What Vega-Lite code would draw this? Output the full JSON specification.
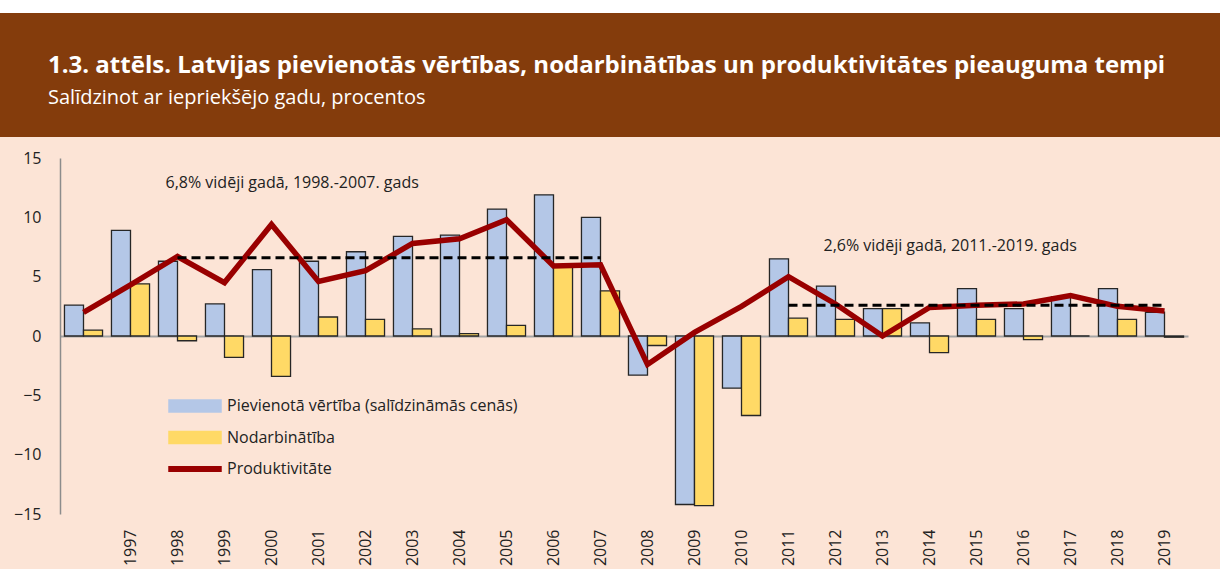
{
  "$schema": "https://vega.github.io/schema/vega-lite/v6.json",
  "background": "#FFFFFF",
  "padding": {"left": 0, "top": 13, "right": 0, "bottom": 0},
  "spacing": 0,
  "bounds": "flush",
  "config": {"font": "Open Sans", "view": {"stroke": null}, "legend": {"symbolStrokeColor": "#262626", "symbolStrokeWidth": 1.3}},
  "datasets": {
    "bars": [
      {"year": 1996, "series": "Pievienotā vērtība (salīdzināmās cenās)", "value": 2.6},
      {"year": 1997, "series": "Pievienotā vērtība (salīdzināmās cenās)", "value": 8.9},
      {"year": 1998, "series": "Pievienotā vērtība (salīdzināmās cenās)", "value": 6.3},
      {"year": 1999, "series": "Pievienotā vērtība (salīdzināmās cenās)", "value": 2.7},
      {"year": 2000, "series": "Pievienotā vērtība (salīdzināmās cenās)", "value": 5.6},
      {"year": 2001, "series": "Pievienotā vērtība (salīdzināmās cenās)", "value": 6.3},
      {"year": 2002, "series": "Pievienotā vērtība (salīdzināmās cenās)", "value": 7.1},
      {"year": 2003, "series": "Pievienotā vērtība (salīdzināmās cenās)", "value": 8.4},
      {"year": 2004, "series": "Pievienotā vērtība (salīdzināmās cenās)", "value": 8.5},
      {"year": 2005, "series": "Pievienotā vērtība (salīdzināmās cenās)", "value": 10.7},
      {"year": 2006, "series": "Pievienotā vērtība (salīdzināmās cenās)", "value": 11.9},
      {"year": 2007, "series": "Pievienotā vērtība (salīdzināmās cenās)", "value": 10.0},
      {"year": 2008, "series": "Pievienotā vērtība (salīdzināmās cenās)", "value": -3.3},
      {"year": 2009, "series": "Pievienotā vērtība (salīdzināmās cenās)", "value": -14.2},
      {"year": 2010, "series": "Pievienotā vērtība (salīdzināmās cenās)", "value": -4.4},
      {"year": 2011, "series": "Pievienotā vērtība (salīdzināmās cenās)", "value": 6.5},
      {"year": 2012, "series": "Pievienotā vērtība (salīdzināmās cenās)", "value": 4.2},
      {"year": 2013, "series": "Pievienotā vērtība (salīdzināmās cenās)", "value": 2.3},
      {"year": 2014, "series": "Pievienotā vērtība (salīdzināmās cenās)", "value": 1.1},
      {"year": 2015, "series": "Pievienotā vērtība (salīdzināmās cenās)", "value": 4.0},
      {"year": 2016, "series": "Pievienotā vērtība (salīdzināmās cenās)", "value": 2.3},
      {"year": 2017, "series": "Pievienotā vērtība (salīdzināmās cenās)", "value": 3.3},
      {"year": 2018, "series": "Pievienotā vērtība (salīdzināmās cenās)", "value": 4.0},
      {"year": 2019, "series": "Pievienotā vērtība (salīdzināmās cenās)", "value": 2.0},
      {"year": 1996, "series": "Nodarbinātība", "value": 0.5},
      {"year": 1997, "series": "Nodarbinātība", "value": 4.4},
      {"year": 1998, "series": "Nodarbinātība", "value": -0.4},
      {"year": 1999, "series": "Nodarbinātība", "value": -1.8},
      {"year": 2000, "series": "Nodarbinātība", "value": -3.4},
      {"year": 2001, "series": "Nodarbinātība", "value": 1.6},
      {"year": 2002, "series": "Nodarbinātība", "value": 1.4},
      {"year": 2003, "series": "Nodarbinātība", "value": 0.6},
      {"year": 2004, "series": "Nodarbinātība", "value": 0.2},
      {"year": 2005, "series": "Nodarbinātība", "value": 0.9},
      {"year": 2006, "series": "Nodarbinātība", "value": 5.9},
      {"year": 2007, "series": "Nodarbinātība", "value": 3.8},
      {"year": 2008, "series": "Nodarbinātība", "value": -0.8},
      {"year": 2009, "series": "Nodarbinātība", "value": -14.3},
      {"year": 2010, "series": "Nodarbinātība", "value": -6.7},
      {"year": 2011, "series": "Nodarbinātība", "value": 1.5},
      {"year": 2012, "series": "Nodarbinātība", "value": 1.4},
      {"year": 2013, "series": "Nodarbinātība", "value": 2.3},
      {"year": 2014, "series": "Nodarbinātība", "value": -1.4},
      {"year": 2015, "series": "Nodarbinātība", "value": 1.4},
      {"year": 2016, "series": "Nodarbinātība", "value": -0.3},
      {"year": 2017, "series": "Nodarbinātība", "value": 0.0},
      {"year": 2018, "series": "Nodarbinātība", "value": 1.4},
      {"year": 2019, "series": "Nodarbinātība", "value": -0.1}
    ],
    "prod": [
      {"year": 1996, "series": "Produktivitāte", "value": 2.0},
      {"year": 1997, "series": "Produktivitāte", "value": 4.3},
      {"year": 1998, "series": "Produktivitāte", "value": 6.7},
      {"year": 1999, "series": "Produktivitāte", "value": 4.5},
      {"year": 2000, "series": "Produktivitāte", "value": 9.4},
      {"year": 2001, "series": "Produktivitāte", "value": 4.6},
      {"year": 2002, "series": "Produktivitāte", "value": 5.5},
      {"year": 2003, "series": "Produktivitāte", "value": 7.8},
      {"year": 2004, "series": "Produktivitāte", "value": 8.2},
      {"year": 2005, "series": "Produktivitāte", "value": 9.8},
      {"year": 2006, "series": "Produktivitāte", "value": 5.9},
      {"year": 2007, "series": "Produktivitāte", "value": 6.0},
      {"year": 2008, "series": "Produktivitāte", "value": -2.4},
      {"year": 2009, "series": "Produktivitāte", "value": 0.3},
      {"year": 2010, "series": "Produktivitāte", "value": 2.5},
      {"year": 2011, "series": "Produktivitāte", "value": 5.0},
      {"year": 2012, "series": "Produktivitāte", "value": 2.7},
      {"year": 2013, "series": "Produktivitāte", "value": 0.0},
      {"year": 2014, "series": "Produktivitāte", "value": 2.4},
      {"year": 2015, "series": "Produktivitāte", "value": 2.6},
      {"year": 2016, "series": "Produktivitāte", "value": 2.7},
      {"year": 2017, "series": "Produktivitāte", "value": 3.4},
      {"year": 2018, "series": "Produktivitāte", "value": 2.5},
      {"year": 2019, "series": "Produktivitāte", "value": 2.1}
    ],
    "avg": [
      {"year": 1998, "period": "1998-2007", "value": 6.6},
      {"year": 2007, "period": "1998-2007", "value": 6.6},
      {"year": 2011, "period": "2011-2019", "value": 2.6},
      {"year": 2019, "period": "2011-2019", "value": 2.6}
    ],
    "notes": [
      {"year": 1998, "value": 12.9, "text": "6,8% vidēji gadā, 1998.-2007. gads"},
      {"year": 2012, "value": 7.6, "text": "2,6% vidēji gadā, 2011.-2019. gads"}
    ]
  },
  "vconcat": [
    {
      "width": 1220,
      "height": 124,
      "view": {"fill": "#843C0C", "stroke": null},
      "title": {
        "text": "1.3. attēls. Latvijas pievienotās vērtības, nodarbinātības un produktivitātes pieauguma tempi",
        "subtitle": "Salīdzinot ar iepriekšējo gadu, procentos",
        "anchor": "start",
        "frame": "group",
        "orient": "top",
        "offset": -95,
        "dx": 48,
        "color": "#FFFFFF",
        "subtitleColor": "#FFFFFF",
        "font": "Open Sans",
        "subtitleFont": "Open Sans",
        "fontSize": 24,
        "fontWeight": "bold",
        "subtitleFontSize": 20,
        "subtitlePadding": 10
      },
      "data": {"values": [{}]},
      "mark": {"type": "point", "opacity": 0},
      "encoding": {}
    },
    {
      "width": 1220,
      "height": 432,
      "view": {"fill": "#FCE4D6", "stroke": null},
      "layer": [
        {
          "data": {"name": "bars"},
          "mark": {"type": "bar", "stroke": "#262626", "strokeWidth": 1.3},
          "encoding": {
            "x": {
              "field": "year", "type": "ordinal",
              "scale": {"range": [60, 1188], "paddingInner": 0.19, "paddingOuter": 0.095},
              "axis": {
                "orient": "bottom", "offset": -233, "title": null, "labelAngle": -90,
                "labelPadding": 193, "ticks": false, "domainColor": "#A6A6A6", "domainWidth": 2,
                "labelFontSize": 16, "labelColor": "#222222", "labelFont": "Open Sans",
                "labelExpr": "datum.label == '1996' ? '' : datum.label"
              }
            },
            "xOffset": {
              "field": "series", "type": "nominal",
              "scale": {"domain": ["Pievienotā vērtība (salīdzināmās cenās)", "Nodarbinātība"], "paddingInner": 0, "paddingOuter": 0}
            },
            "y": {
              "field": "value", "type": "quantitative",
              "scale": {"domain": [-15, 15], "range": [377, 21], "nice": false, "zero": false},
              "axis": {
                "orient": "left", "offset": -60, "title": null, "grid": false, "ticks": false,
                "values": [-15, -10, -5, 0, 5, 10, 15], "domainColor": "#8C8C8C", "domainWidth": 1.5,
                "labelFontSize": 16, "labelColor": "#222222", "labelPadding": 19, "labelFont": "Open Sans"
              }
            },
            "color": {
              "field": "series", "type": "nominal",
              "scale": {
                "domain": ["Pievienotā vērtība (salīdzināmās cenās)", "Nodarbinātība", "Produktivitāte"],
                "range": ["#B4C7E7", "#FFD966", "#990000"]
              },
              "legend": {
                "title": null, "orient": "none", "legendX": 168, "legendY": 383,
                "symbolType": "M-1,-0.23H1V0.23H-1Z", "symbolSize": 2704,
                "symbolStrokeWidth": 1.3, "symbolStrokeColor": "#262626",
                "clipHeight": 20,
                "labelFontSize": 16, "labelColor": "#222222", "labelFont": "Open Sans",
                "labelOffset": 5, "rowPadding": 11.5, "labelLimit": 500,
                "encode": {
                  "symbols": {
                    "update": {
                      "shape": {"signal": "datum.value === 'Produktivitāte' ? 'M-1,-0.09H1V0.09H-1Z' : 'M-1,-0.23H1V0.23H-1Z'"},
                      "stroke": {"signal": "datum.value === 'Produktivitāte' ? '#990000' : '#262626'"},
                      "strokeWidth": {"value": 1.5},
                      "strokeOpacity": {"value": 1}
                    }
                  }
                }
              }
            }
          }
        },
        {
          "data": {"name": "prod"},
          "mark": {"type": "line", "strokeWidth": 5.5},
          "encoding": {
            "x": {"field": "year", "type": "ordinal"},
            "y": {"field": "value", "type": "quantitative"},
            "color": {"field": "series", "type": "nominal", "legend": null}
          }
        },
        {
          "data": {"name": "avg"},
          "mark": {"type": "line", "color": "#000000", "strokeWidth": 3, "strokeDash": [9, 5]},
          "encoding": {
            "x": {"field": "year", "type": "ordinal"},
            "y": {"field": "value", "type": "quantitative"},
            "detail": {"field": "period"}
          }
        },
        {
          "data": {"name": "notes"},
          "mark": {"type": "text", "align": "left", "baseline": "middle", "fontSize": 16, "color": "#222222", "dx": -12, "font": "Open Sans"},
          "encoding": {
            "x": {"field": "year", "type": "ordinal"},
            "y": {"field": "value", "type": "quantitative"},
            "text": {"field": "text"}
          }
        }
      ]
    }
  ]
}
